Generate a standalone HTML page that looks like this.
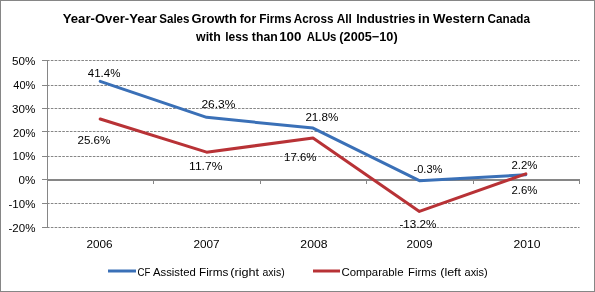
<!DOCTYPE html><html><head><meta charset="utf-8"><style>html,body{margin:0;padding:0;background:#fff;width:595px;height:292px;overflow:hidden}svg{display:block;will-change:transform}text{font-family:"Liberation Sans",sans-serif;fill:#000}</style></head><body>
<svg width="595" height="292" viewBox="0 0 595 292">
<rect x="0" y="0" width="595" height="292" fill="#fff"/>
<rect x="0.5" y="0.5" width="594" height="291" fill="none" stroke="#868686" stroke-width="1"/>
<line x1="47" y1="60.5" x2="579.5" y2="60.5" stroke="#868686" stroke-width="1" stroke-dasharray="2.6,1.22"/>
<line x1="42" y1="60.5" x2="47" y2="60.5" stroke="#868686" stroke-width="1"/>
<line x1="47" y1="85.5" x2="579.5" y2="85.5" stroke="#868686" stroke-width="1" stroke-dasharray="2.6,1.22"/>
<line x1="42" y1="85.5" x2="47" y2="85.5" stroke="#868686" stroke-width="1"/>
<line x1="47" y1="108.5" x2="579.5" y2="108.5" stroke="#868686" stroke-width="1" stroke-dasharray="2.6,1.22"/>
<line x1="42" y1="108.5" x2="47" y2="108.5" stroke="#868686" stroke-width="1"/>
<line x1="47" y1="131.5" x2="579.5" y2="131.5" stroke="#868686" stroke-width="1" stroke-dasharray="2.6,1.22"/>
<line x1="42" y1="131.5" x2="47" y2="131.5" stroke="#868686" stroke-width="1"/>
<line x1="47" y1="156.5" x2="579.5" y2="156.5" stroke="#868686" stroke-width="1" stroke-dasharray="2.6,1.22"/>
<line x1="42" y1="156.5" x2="47" y2="156.5" stroke="#868686" stroke-width="1"/>
<line x1="42" y1="179.5" x2="47" y2="179.5" stroke="#868686" stroke-width="1"/>
<line x1="47" y1="203.5" x2="579.5" y2="203.5" stroke="#868686" stroke-width="1" stroke-dasharray="2.6,1.22"/>
<line x1="42" y1="203.5" x2="47" y2="203.5" stroke="#868686" stroke-width="1"/>
<line x1="47" y1="227.5" x2="579.5" y2="227.5" stroke="#868686" stroke-width="1" stroke-dasharray="2.6,1.22"/>
<line x1="42" y1="227.5" x2="47" y2="227.5" stroke="#868686" stroke-width="1"/>
<line x1="47.5" y1="60" x2="47.5" y2="228" stroke="#868686" stroke-width="1"/>
<rect x="47" y="179" width="533" height="2" fill="#868686"/>
<rect x="47" y="181" width="1" height="3" fill="#868686"/>
<rect x="153" y="181" width="1" height="3" fill="#868686"/>
<rect x="260" y="181" width="1" height="3" fill="#868686"/>
<rect x="366" y="181" width="1" height="3" fill="#868686"/>
<rect x="473" y="181" width="1" height="3" fill="#868686"/>
<rect x="579" y="181" width="1" height="3" fill="#868686"/>
<polyline points="100.20,81.40 206.60,117.36 313.00,128.08 419.40,180.71 525.80,174.76" fill="none" stroke="#3A70B7" stroke-width="3" stroke-linejoin="round" stroke-linecap="round"/>
<polyline points="100.20,119.03 206.60,152.14 313.00,138.08 419.40,211.44 525.80,173.81" fill="none" stroke="#B83236" stroke-width="3" stroke-linejoin="round" stroke-linecap="round"/>
<line x1="108" y1="271" x2="136" y2="271" stroke="#3A70B7" stroke-width="3"/>
<line x1="313" y1="271" x2="340" y2="271" stroke="#B83236" stroke-width="3"/>
<text x="62.78" y="23" font-size="12.6" font-weight="bold" textLength="94.22" lengthAdjust="spacingAndGlyphs">Year-Over-Year</text>
<text x="159.26" y="23" font-size="12.6" font-weight="bold" textLength="30.21" lengthAdjust="spacingAndGlyphs">Sales</text>
<text x="191.47" y="23" font-size="12.6" font-weight="bold" textLength="45.34" lengthAdjust="spacingAndGlyphs">Growth</text>
<text x="239.78" y="23" font-size="12.6" font-weight="bold" textLength="16.41" lengthAdjust="spacingAndGlyphs">for</text>
<text x="259.21" y="23" font-size="12.6" font-weight="bold" textLength="32.28" lengthAdjust="spacingAndGlyphs">Firms</text>
<text x="293.71" y="23" font-size="12.6" font-weight="bold" textLength="39.76" lengthAdjust="spacingAndGlyphs">Across</text>
<text x="336.69" y="23" font-size="12.6" font-weight="bold" textLength="15.18" lengthAdjust="spacingAndGlyphs">All</text>
<text x="356.17" y="23" font-size="12.6" font-weight="bold" textLength="59.34" lengthAdjust="spacingAndGlyphs">Industries</text>
<text x="418.11" y="23" font-size="12.6" font-weight="bold" textLength="11.67" lengthAdjust="spacingAndGlyphs">in</text>
<text x="432.99" y="23" font-size="12.6" font-weight="bold" textLength="51.82" lengthAdjust="spacingAndGlyphs">Western</text>
<text x="487.51" y="23" font-size="12.6" font-weight="bold" textLength="42.41" lengthAdjust="spacingAndGlyphs">Canada</text>
<text x="196.04" y="41" font-size="12.6" font-weight="bold" textLength="24.75" lengthAdjust="spacingAndGlyphs">with</text>
<text x="225.16" y="41" font-size="12.6" font-weight="bold" textLength="23.34" lengthAdjust="spacingAndGlyphs">less</text>
<text x="251.85" y="41" font-size="12.6" font-weight="bold" textLength="25.93" lengthAdjust="spacingAndGlyphs">than</text>
<text x="279.17" y="41" font-size="12.6" font-weight="bold" textLength="22.38" lengthAdjust="spacingAndGlyphs">100</text>
<text x="306.71" y="41" font-size="12.6" font-weight="bold" textLength="29.76" lengthAdjust="spacingAndGlyphs">ALUs</text>
<text x="339.37" y="41" font-size="12.6" font-weight="bold" textLength="58.27" lengthAdjust="spacingAndGlyphs">(2005−10)</text>
<text x="12.05" y="65.2" font-size="10.8" textLength="23.35" lengthAdjust="spacingAndGlyphs">50%</text>
<text x="13.25" y="89.0" font-size="10.8" textLength="22.15" lengthAdjust="spacingAndGlyphs">40%</text>
<text x="12.07" y="112.80000000000001" font-size="10.8" textLength="23.32" lengthAdjust="spacingAndGlyphs">30%</text>
<text x="12.93" y="136.60000000000002" font-size="10.8" textLength="22.47" lengthAdjust="spacingAndGlyphs">20%</text>
<text x="12.63" y="160.4" font-size="10.8" textLength="22.78" lengthAdjust="spacingAndGlyphs">10%</text>
<text x="18.56" y="184.2" font-size="10.8" textLength="16.83" lengthAdjust="spacingAndGlyphs">0%</text>
<text x="8.50" y="208.0" font-size="10.8" textLength="26.91" lengthAdjust="spacingAndGlyphs">-10%</text>
<text x="8.50" y="231.8" font-size="10.8" textLength="26.91" lengthAdjust="spacingAndGlyphs">-20%</text>
<text x="86.41" y="248" font-size="10.8" textLength="26.10" lengthAdjust="spacingAndGlyphs">2006</text>
<text x="193.40" y="248" font-size="10.8" textLength="26.19" lengthAdjust="spacingAndGlyphs">2007</text>
<text x="300.39" y="248" font-size="10.8" textLength="27.13" lengthAdjust="spacingAndGlyphs">2008</text>
<text x="406.40" y="248" font-size="10.8" textLength="26.16" lengthAdjust="spacingAndGlyphs">2009</text>
<text x="513.40" y="248" font-size="10.8" textLength="27.07" lengthAdjust="spacingAndGlyphs">2010</text>
<text x="87.74" y="77" font-size="10.8" textLength="32.67" lengthAdjust="spacingAndGlyphs">41.4%</text>
<text x="201.41" y="108.1" font-size="10.8" textLength="34.01" lengthAdjust="spacingAndGlyphs">26.3%</text>
<text x="305.42" y="120.7" font-size="10.8" textLength="32.99" lengthAdjust="spacingAndGlyphs">21.8%</text>
<text x="413.51" y="172.9" font-size="10.8" textLength="28.89" lengthAdjust="spacingAndGlyphs">-0.3%</text>
<text x="511.43" y="169.4" font-size="10.8" textLength="25.97" lengthAdjust="spacingAndGlyphs">2.2%</text>
<text x="77.42" y="143.9" font-size="10.8" textLength="33.00" lengthAdjust="spacingAndGlyphs">25.6%</text>
<text x="189.12" y="170" font-size="10.8" textLength="33.28" lengthAdjust="spacingAndGlyphs">11.7%</text>
<text x="284.12" y="160.55" font-size="10.8" textLength="32.29" lengthAdjust="spacingAndGlyphs">17.6%</text>
<text x="399.48" y="227.85" font-size="10.8" textLength="36.93" lengthAdjust="spacingAndGlyphs">-13.2%</text>
<text x="511.43" y="193.9" font-size="10.8" textLength="25.97" lengthAdjust="spacingAndGlyphs">2.6%</text>
<text x="137.52" y="275.8" font-size="10.8" textLength="12.86" lengthAdjust="spacingAndGlyphs">CF</text>
<text x="152.98" y="275.8" font-size="10.8" textLength="42.75" lengthAdjust="spacingAndGlyphs">Assisted</text>
<text x="199.04" y="275.8" font-size="10.8" textLength="29.38" lengthAdjust="spacingAndGlyphs">Firms</text>
<text x="230.21" y="275.8" font-size="10.8" textLength="28.89" lengthAdjust="spacingAndGlyphs">(right</text>
<text x="262.54" y="275.8" font-size="10.8" textLength="22.12" lengthAdjust="spacingAndGlyphs">axis)</text>
<text x="341.42" y="275.8" font-size="10.8" textLength="62.08" lengthAdjust="spacingAndGlyphs">Comparable</text>
<text x="408.06" y="275.8" font-size="10.8" textLength="28.35" lengthAdjust="spacingAndGlyphs">Firms</text>
<text x="440.23" y="275.8" font-size="10.8" textLength="20.86" lengthAdjust="spacingAndGlyphs">(left</text>
<text x="464.54" y="275.8" font-size="10.8" textLength="23.14" lengthAdjust="spacingAndGlyphs">axis)</text>
</svg></body></html>
